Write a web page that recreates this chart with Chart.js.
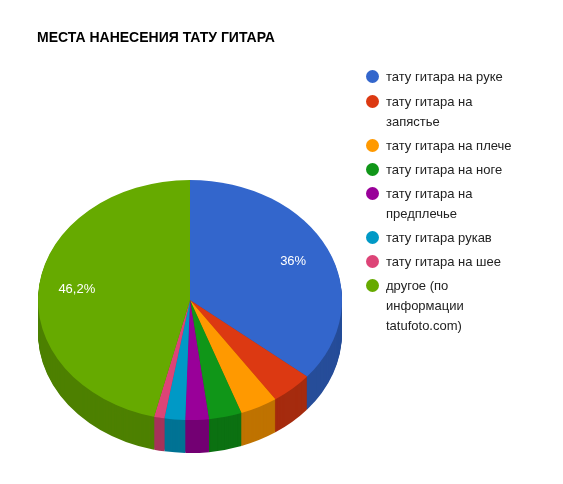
<!DOCTYPE html>
<html><head><meta charset="utf-8">
<script src="https://cdn.jsdelivr.net/npm/chart.js@4"></script>
<style>
body{margin:0;background:#fff;font-family:Arial,"Liberation Sans",sans-serif;}
#wrap{position:relative;width:563px;height:484px;}
#title{position:absolute;left:37px;top:29px;font-weight:bold;font-size:14px;color:#000;}
.li{position:absolute;left:366px;width:170px;font-size:13px;color:#222;line-height:20px;}
.li i{position:absolute;left:0;top:3px;width:13px;height:13px;border-radius:50%;}
.li span{display:block;margin-left:20px;width:128px;}
</style></head><body>
<div id="wrap"><canvas id="c" width="563" height="484"></canvas><div id="title">МЕСТА НАНЕСЕНИЯ ТАТУ ГИТАРА</div><div id="legend"></div></div>
<script>
const categories=["тату гитара на руке","тату гитара на запястье","тату гитара на плече","тату гитара на ноге","тату гитара на предплечье","тату гитара рукав","тату гитара на шее","другое (по информации tatufoto.com)"];
const values=[36,4.5,4,3.5,2.5,2.2,1.1,46.2];
const colors=["#3366cc","#dc3912","#ff9900","#109618","#990099","#0099c6","#dd4477","#66aa00"];
const sideColors=["#264d99","#a52b0e","#bf7300","#0c7112","#730073","#007394","#a6335a","#4d8000"];
const legendTops=[67,92,136,160,184,228,252,276];
const K=0.79, DEPTH=33;
const lg=document.getElementById('legend');
categories.forEach((c,i)=>{const d=document.createElement('div');d.className='li';d.style.top=legendTops[i]+'px';d.innerHTML='<i style="background:'+colors[i]+'"></i><span>'+c+'</span>';lg.appendChild(d);});
const tilt={id:'tilt',
beforeDatasetsDraw(ch){const ctx=ch.ctx;const arcs=ch.getDatasetMeta(0).data;const cy=arcs[0].y;
 ctx.save();ctx.translate(0,cy);ctx.scale(1,K);ctx.translate(0,-cy);
 for(let d=DEPTH;d>0;d--){arcs.forEach((a,i)=>{
   ctx.beginPath();ctx.moveTo(a.x,a.y+d/K);ctx.arc(a.x,a.y+d/K,a.outerRadius,a.startAngle,a.endAngle);ctx.closePath();
   ctx.fillStyle=sideColors[i];ctx.fill();});}
},
afterDatasetsDraw(ch){const ctx=ch.ctx;ctx.restore();
 const arcs=ch.getDatasetMeta(0).data;ctx.save();ctx.fillStyle='#fff';ctx.font='13px Arial';ctx.textAlign='center';ctx.textBaseline='middle';
 values.forEach((v,i)=>{if(v<10)return;const a=arcs[i];const m=(a.startAngle+a.endAngle)/2;const r=a.outerRadius*0.75;
  ctx.fillText(String(v).replace('.',',')+'%',a.x+r*Math.cos(m),a.y+r*Math.sin(m)*K);});
 ctx.restore();}
};
new Chart(document.getElementById('c'),{type:'pie',
data:{labels:categories,datasets:[{data:values,backgroundColor:colors,borderWidth:0,hoverOffset:0}]},
options:{responsive:false,animation:false,events:[],layout:{padding:{left:38,right:221,top:148,bottom:32}},
plugins:{legend:{display:false},tooltip:{enabled:false}}},
plugins:[tilt]});
</script></body></html>
